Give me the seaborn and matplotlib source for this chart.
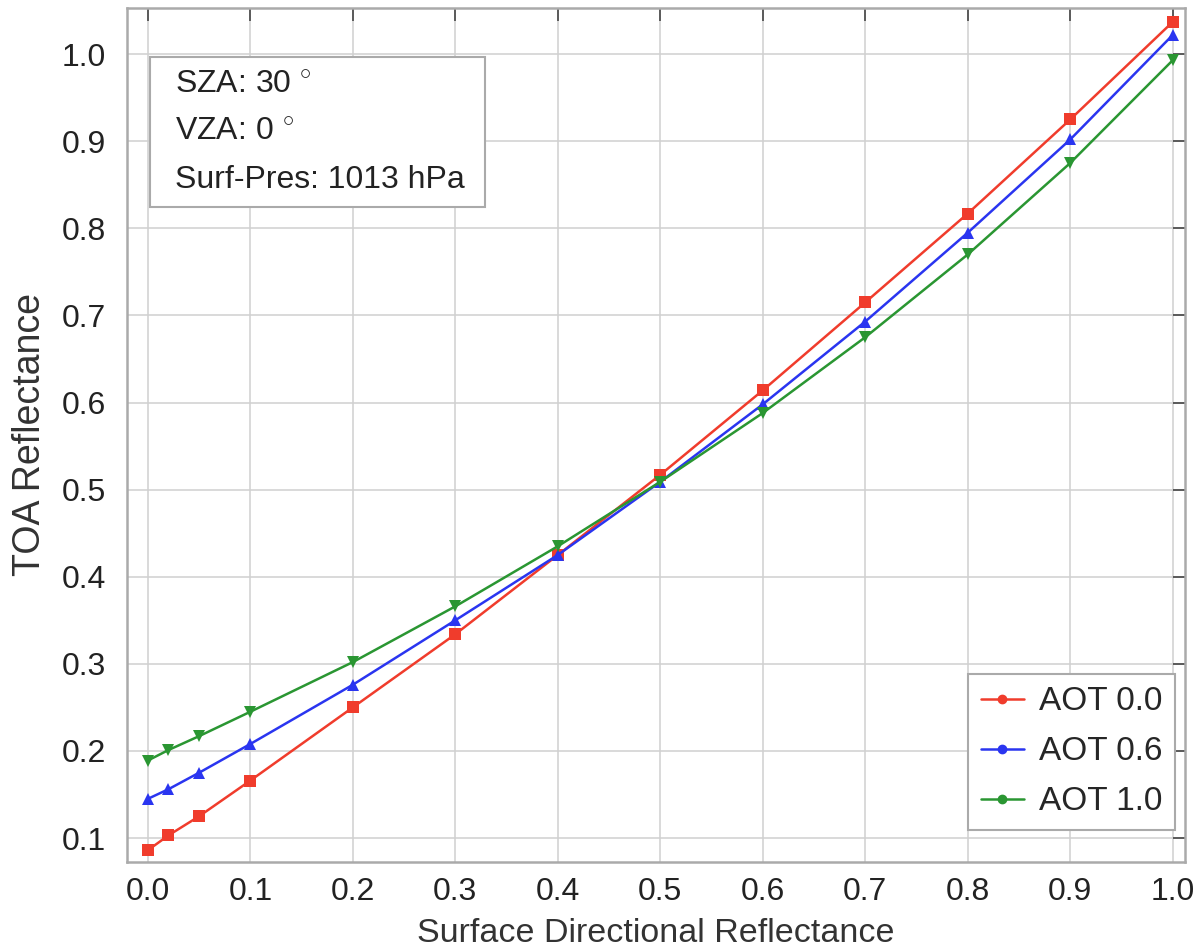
import numpy as np
import pandas as pd
import matplotlib
matplotlib.use("Agg")
import matplotlib.pyplot as plt
from matplotlib.patches import Rectangle
import seaborn as sns

# surface reflectance sample points
surf_refl = [0.0, 0.02, 0.05, 0.1, 0.2, 0.3, 0.4, 0.5, 0.6, 0.7, 0.8, 0.9, 1.0]

# TOA reflectance for each aerosol optical thickness
toa_aot00 = [0.086, 0.103, 0.125, 0.166, 0.250, 0.334, 0.425, 0.517, 0.614, 0.715, 0.817, 0.925, 1.037]
toa_aot06 = [0.145, 0.156, 0.175, 0.208, 0.276, 0.350, 0.425, 0.509, 0.598, 0.693, 0.795, 0.902, 1.022]
toa_aot10 = [0.189, 0.201, 0.217, 0.245, 0.302, 0.366, 0.435, 0.509, 0.588, 0.675, 0.770, 0.875, 0.993]

series_names = ["AOT 0.0", "AOT 0.6", "AOT 1.0"]
info_lines = ["SZA: 30 $^{\\circ}$", "VZA: 0 $^{\\circ}$", "Surf-Pres: 1013 hPa"]

df = pd.concat([
    pd.DataFrame({"surf": surf_refl, "toa": vals, "aot": name})
    for name, vals in zip(series_names, [toa_aot00, toa_aot06, toa_aot10])
])

sns.set_theme(style="whitegrid")
plt.rcParams["font.family"] = ["Liberation Sans", "DejaVu Sans"]
plt.rcParams["mathtext.fontset"] = "custom"
plt.rcParams["mathtext.rm"] = "Liberation Sans"

fig = plt.figure(figsize=(11.97, 9.49), dpi=100)
ax = fig.add_axes([0.106, 0.0917, 0.884, 0.8999])

palette = {"AOT 0.0": "#f03c2c", "AOT 0.6": "#2a35f0", "AOT 1.0": "#2a9632"}
markers = {"AOT 0.0": "s", "AOT 0.6": "^", "AOT 1.0": "v"}

sns.lineplot(data=df, x="surf", y="toa", hue="aot", style="aot",
             palette=palette, markers=markers, dashes=False,
             markersize=9, linewidth=1.8, markeredgewidth=0, ax=ax, legend=False)

ax.set_xlim(-0.0205, 1.012)
ax.set_ylim(0.0725, 1.053)
ax.set_xticks(np.arange(0, 1.01, 0.1))
ax.set_yticks(np.arange(0.1, 1.01, 0.1))
ax.xaxis.set_major_formatter(matplotlib.ticker.FormatStrFormatter("%.1f"))
ax.yaxis.set_major_formatter(matplotlib.ticker.FormatStrFormatter("%.1f"))
ax.tick_params(axis="both", which="major", direction="in", length=9, width=1.2,
               color="#444444", labelsize=23, labelcolor="#222222",
               top=True, right=True)
ax.tick_params(axis="x", pad=11)
ax.tick_params(axis="y", pad=15)
ax.grid(True, color="#d0d0d0", linewidth=1.1)
for sp in ax.spines.values():
    sp.set_color("#aaaaaa")
    sp.set_linewidth(1.8)

ax.set_xlabel("Surface Directional Reflectance", fontsize=24.5, color="#333333", labelpad=8)
ax.set_ylabel("TOA Reflectance", fontsize=27, color="#333333", labelpad=10)

# legend with small dot markers
leg_handles = [plt.Line2D([], [], color=palette[n], marker="o", markersize=6, linewidth=1.8)
               for n in series_names]
leg = ax.legend(leg_handles, series_names, loc="lower right", fontsize=24,
                frameon=True, fancybox=False, edgecolor="#aaaaaa", framealpha=1,
                handlelength=1.3, handletextpad=0.45, borderpad=0.38,
                labelspacing=0.57, borderaxespad=0,
                bbox_to_anchor=(0.9906, 0.0375))
leg.get_frame().set_linewidth(1.5)

# info box in the upper left
ax.add_patch(Rectangle((0.0217, 0.767), 0.3167, 0.1756, transform=ax.transAxes,
                       facecolor="white", edgecolor="#aaaaaa", linewidth=1.5, zorder=5))
for line, yb in zip(info_lines, [0.9005, 0.8454, 0.7892]):
    ax.text(0.0454, yb, line, transform=ax.transAxes, fontsize=23,
            va="baseline", ha="left", color="#222222", zorder=6)

fig.savefig("out.png", dpi=100)
